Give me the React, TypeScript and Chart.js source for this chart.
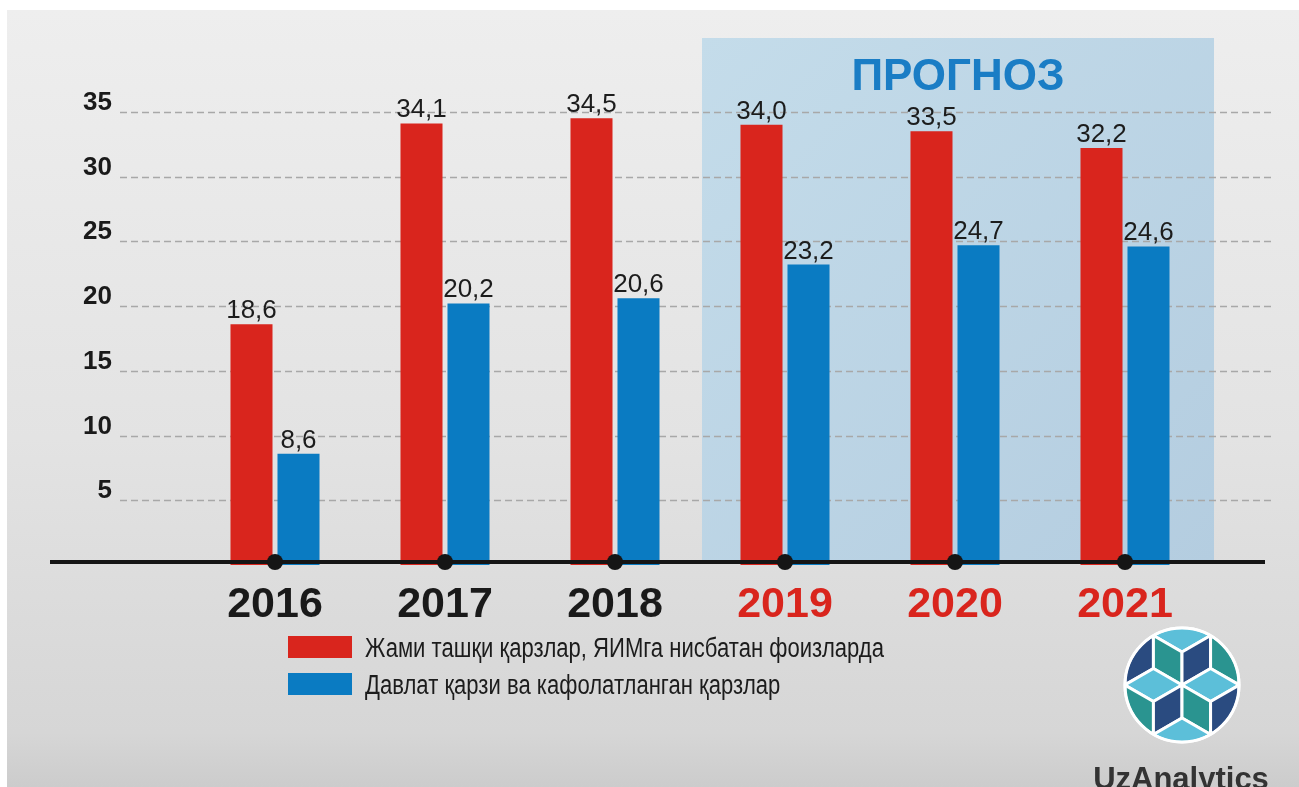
import React, { useEffect, useRef } from "react";
import { Chart, registerables } from "chart.js";

Chart.register(...registerables);

// ---- data ----
const years = ["2016", "2017", "2018", "2019", "2020", "2021"];
const totalExternalDebt = [18.6, 34.1, 34.5, 34.0, 33.5, 32.2];
const publicGuaranteedDebt = [8.6, 20.2, 20.6, 23.2, 24.7, 24.6];
const forecastYears = ["2019", "2020", "2021"];
const seriesLabels = [
  "Жами ташқи қарзлар, ЯИМга нисбатан фоизларда",
  "Давлат қарзи ва кафолатланган қарзлар",
];
const yTickValues = [5, 10, 15, 20, 25, 30, 35];
const forecastTitle = "ПРОГНОЗ";
const brandName = "UzAnalytics";

// ---- styles ----
const RED = "#d9251d";
const BLUE = "#0a7bc2";
const FONT = "'Liberation Sans', Arial, sans-serif";
const W = 1299;
const H = 787;

function fmt(v: number) {
  return v.toFixed(1).replace(".", ",");
}

function drawLogo(ctx: CanvasRenderingContext2D, cx: number, cy: number, r: number) {
  ctx.save();
  ctx.beginPath();
  ctx.arc(cx, cy, r + 1.5, 0, Math.PI * 2);
  ctx.fillStyle = "#ffffff";
  ctx.fill();
  ctx.beginPath();
  ctx.arc(cx, cy, r - 1, 0, Math.PI * 2);
  ctx.clip();
  const s = r * 0.579;
  const w = (s * Math.sqrt(3)) / 2;
  const c1x = cx;
  const c1y = cy - s;
  const face = (pts: number[][], col: string) => {
    ctx.beginPath();
    ctx.moveTo(pts[0][0], pts[0][1]);
    for (let k = 1; k < pts.length; k++) ctx.lineTo(pts[k][0], pts[k][1]);
    ctx.closePath();
    ctx.fillStyle = col;
    ctx.fill();
    ctx.strokeStyle = "#ffffff";
    ctx.lineWidth = 3;
    ctx.lineJoin = "round";
    ctx.stroke();
  };
  for (let j = -3; j <= 3; j++) {
    for (let i = -4; i <= 4; i++) {
      const x = c1x + i * 2 * w + j * w;
      const y = c1y + j * 1.5 * s;
      face([[x, y], [x - w, y - s / 2], [x, y - s], [x + w, y - s / 2]], "#5cbfd9");
      face([[x, y], [x - w, y - s / 2], [x - w, y + s / 2], [x, y + s]], "#2a9490");
      face([[x, y], [x + w, y - s / 2], [x + w, y + s / 2], [x, y + s]], "#2a4b80");
    }
  }
  ctx.restore();
  ctx.save();
  ctx.beginPath();
  ctx.arc(cx, cy, r, 0, Math.PI * 2);
  ctx.strokeStyle = "#ffffff";
  ctx.lineWidth = 3;
  ctx.stroke();
  ctx.restore();
}

const decorPlugin = {
  id: "decor",
  beforeDraw(chart: any) {
    const ctx: CanvasRenderingContext2D = chart.ctx;
    ctx.save();
    ctx.fillStyle = "#ffffff";
    ctx.fillRect(0, 0, chart.width, chart.height);
    const g = ctx.createLinearGradient(0, 10, 0, chart.height);
    g.addColorStop(0, "#eeeeee");
    g.addColorStop(0.55, "#e3e3e3");
    g.addColorStop(0.93, "#d6d6d6");
    g.addColorStop(1, "#cccccc");
    ctx.fillStyle = g;
    ctx.fillRect(7, 10, chart.width - 7, chart.height - 10);
    ctx.restore();
  },
  beforeDatasetsDraw(chart: any) {
    const ctx: CanvasRenderingContext2D = chart.ctx;
    const xs = chart.scales.x;
    const ys = chart.scales.y;
    const area = chart.chartArea;
    const y0 = ys.getPixelForValue(0);
    // forecast box
    const firstIdx = years.indexOf(forecastYears[0]);
    const left = (xs.getPixelForValue(firstIdx - 1) + xs.getPixelForValue(firstIdx)) / 2 + 2;
    const right = area.right + 4;
    const top = area.top - 9;
    const bottom = y0 - 3;
    ctx.save();
    const bg = ctx.createLinearGradient(left, top, right, bottom);
    bg.addColorStop(0, "#c4dcea");
    bg.addColorStop(1, "#b4cde0");
    ctx.fillStyle = bg;
    ctx.fillRect(left, top, right - left, bottom - top);
    ctx.fillStyle = "#1a7dc5";
    ctx.font = `bold 44px ${FONT}`;
    ctx.textAlign = "center";
    ctx.textBaseline = "alphabetic";
    ctx.fillText(forecastTitle, (left + right) / 2, top + 52);
    // dashed grid lines
    ctx.strokeStyle = "#a8a8a8";
    ctx.lineWidth = 1.5;
    ctx.setLineDash([7, 4]);
    for (const v of yTickValues) {
      const y = Math.round(ys.getPixelForValue(v)) + 0.5;
      ctx.beginPath();
      ctx.moveTo(area.left - 70, y);
      ctx.lineTo(area.right + 62, y);
      ctx.stroke();
    }
    ctx.restore();
  },
  afterDatasetsDraw(chart: any) {
    const ctx: CanvasRenderingContext2D = chart.ctx;
    const xs = chart.scales.x;
    const ys = chart.scales.y;
    const area = chart.chartArea;
    const y0 = ys.getPixelForValue(0) - 3;
    ctx.save();
    // value labels
    ctx.fillStyle = "#1c1c1c";
    ctx.font = `26px ${FONT}`;
    ctx.textAlign = "center";
    ctx.textBaseline = "alphabetic";
    chart.data.datasets.forEach((ds: any, di: number) => {
      const meta = chart.getDatasetMeta(di);
      meta.data.forEach((bar: any, i: number) => {
        ctx.fillText(fmt(ds.data[i]), bar.x, bar.y - 6);
      });
    });
    // axis line
    ctx.strokeStyle = "#151515";
    ctx.lineWidth = 4;
    ctx.beginPath();
    ctx.moveTo(area.left - 140, y0);
    ctx.lineTo(area.right + 55, y0);
    ctx.stroke();
    // dots
    ctx.fillStyle = "#151515";
    years.forEach((_, i) => {
      ctx.beginPath();
      ctx.arc(xs.getPixelForValue(i), y0, 8, 0, Math.PI * 2);
      ctx.fill();
    });
    ctx.restore();
  },
  afterDraw(chart: any) {
    const ctx: CanvasRenderingContext2D = chart.ctx;
    ctx.save();
    // legend
    const boxX = 288;
    const textX = 365;
    const rows = [636, 673];
    ctx.font = `27px ${FONT}`;
    const m = ctx.measureText(seriesLabels[0]).width;
    const sx = Math.min(1, 519 / m);
    chart.data.datasets.forEach((ds: any, i: number) => {
      const y = rows[i];
      ctx.fillStyle = ds.backgroundColor;
      ctx.fillRect(boxX, y, 64, 22);
      ctx.fillStyle = "#1c1c1c";
      ctx.textAlign = "left";
      ctx.textBaseline = "alphabetic";
      ctx.save();
      ctx.translate(textX, y + 21);
      ctx.scale(sx, 1);
      ctx.fillText(ds.label, 0, 0);
      ctx.restore();
    });
    // logo
    drawLogo(ctx, 1182, 685, 57);
    ctx.fillStyle = "#333333";
    ctx.font = `bold 31px ${FONT}`;
    ctx.textAlign = "center";
    ctx.fillText(brandName, 1181, 789);
    ctx.restore();
  },
};

export default function App() {
  const ref = useRef<HTMLCanvasElement | null>(null);
  useEffect(() => {
    if (!ref.current) return;
    const chart = new Chart(ref.current, {
      type: "bar",
      data: {
        labels: years,
        datasets: [
          {
            label: seriesLabels[0],
            data: totalExternalDebt,
            backgroundColor: RED,
            categoryPercentage: 0.553,
            barPercentage: 0.894,
          },
          {
            label: seriesLabels[1],
            data: publicGuaranteedDebt,
            backgroundColor: BLUE,
            categoryPercentage: 0.553,
            barPercentage: 0.894,
          },
        ],
      },
      options: {
        animation: false,
        responsive: false,
        devicePixelRatio: 1,
        layout: { padding: { left: 0, right: 89, top: 47, bottom: 0 } },
        plugins: {
          legend: { display: false },
          tooltip: { enabled: false },
        },
        scales: {
          x: {
            grid: { display: false, drawTicks: false },
            border: { display: false },
            ticks: {
              autoSkip: false,
              maxRotation: 0,
              padding: 14,
              font: { family: FONT, size: 43, weight: "bold" },
              color: (c: any) =>
                forecastYears.includes(years[c.index]) ? RED : "#1a1a1a",
            },
            afterFit: (s: any) => {
              s.height = 222;
              s.paddingLeft = 0;
              s.paddingRight = 0;
            },
          },
          y: {
            min: 0,
            max: 40,
            grid: { display: false, drawTicks: false },
            border: { display: false },
            ticks: {
              stepSize: 5,
              autoSkip: false,
              padding: 78,
              labelOffset: -9,
              font: { family: FONT, size: 26, weight: "bold" },
              color: "#1a1a1a",
              callback: (v: any) => (yTickValues.includes(Number(v)) ? String(v) : ""),
            },
            afterFit: (s: any) => {
              s.width = 190;
              s.paddingTop = 0;
              s.paddingBottom = 0;
            },
          },
        },
      },
      plugins: [decorPlugin],
    });
    return () => chart.destroy();
  }, []);
  return (
    <div style={{ position: "fixed", left: 0, top: 0, width: W, height: H }}>
      <canvas ref={ref} width={W} height={H} style={{ width: W, height: H, display: "block" }} />
    </div>
  );
}
